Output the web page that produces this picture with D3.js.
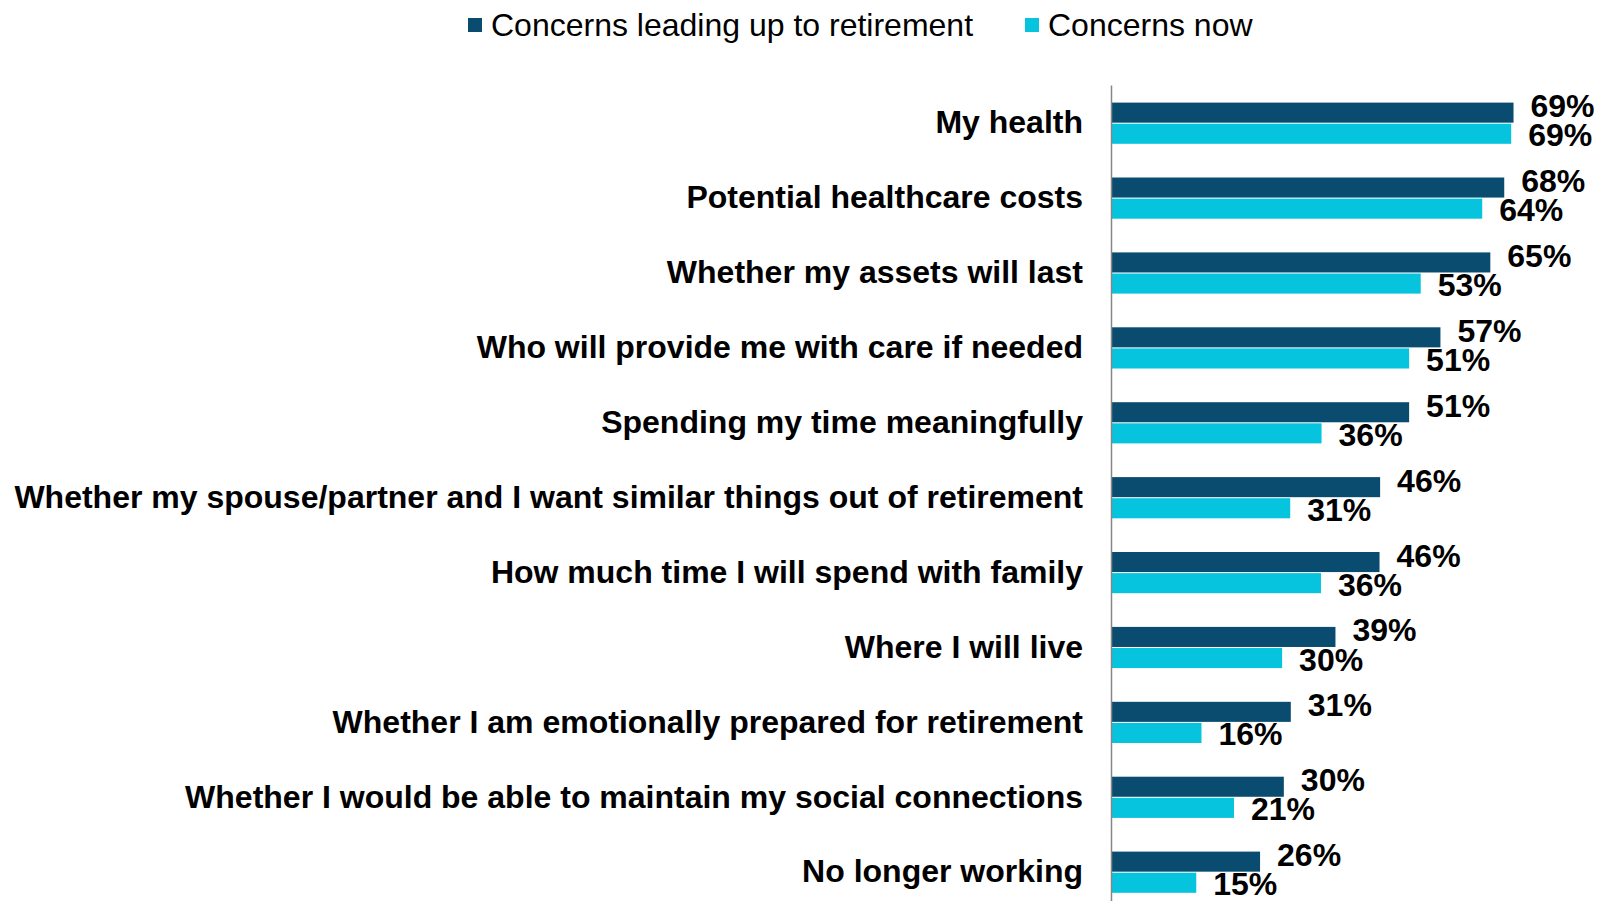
<!DOCTYPE html>
<html>
<head>
<meta charset="utf-8">
<script src="https://cdn.jsdelivr.net/npm/d3@7"></script>
<style>
  body { margin: 0; background: #fff; }
  svg { display: block; }
</style>
</head>
<body>
<svg id="chart" width="1600" height="901"></svg>
<script>
const CATEGORIES = [
  "My health",
  "Potential healthcare costs",
  "Whether my assets will last",
  "Who will provide me with care if needed",
  "Spending my time meaningfully",
  "Whether my spouse/partner and I want similar things out of retirement",
  "How much time I will spend with family",
  "Where I will live",
  "Whether I am emotionally prepared for retirement",
  "Whether I would be able to maintain my social connections",
  "No longer working"
];
const SERIES = ["Concerns leading up to retirement", "Concerns now"];
// values (labels show rounded numbers)
const BEFORE = [69.4, 67.8, 65.4, 56.8, 51.4, 46.4, 46.3, 38.7, 31.0, 29.8, 25.7];
const NOW    = [69.0, 64.0, 53.4, 51.4, 36.3, 30.9, 36.2, 29.5, 15.6, 21.2, 14.7];
const COLORS = ["#0a4c6f", "#06c3de"];

const svg = d3.select("#chart");

const rows = CATEGORIES.map((c, i) => ({
  cat: c,
  vals: [{s: SERIES[0], v: BEFORE[i]}, {s: SERIES[1], v: NOW[i]}]
}));

let x = d3.scaleLinear().domain([0, 70]).range([1111, 1517]);

let y = d3.scaleBand().domain(CATEGORIES)
          .range([85, 910.4])
          .paddingInner(0.45)
          .paddingOuter(0.235);

let ySub = d3.scaleBand().domain(SERIES)
             .range([0, y.bandwidth()])
             .paddingInner(0.05);

let color = d3.scaleOrdinal().domain(SERIES).range(COLORS);

// bars
let groups = svg.selectAll(".cat")
    .data(rows)
    .enter()
    .append("g")
    .attr("class", "cat")
    .attr("transform", d => `translate(0,${y(d.cat)})`);

groups.selectAll("rect")
    .data(d => d.vals)
    .enter()
    .append("rect")
    .attr("x", x(0))
    .attr("y", d => ySub(d.s))
    .attr("width", d => x(d.v) - x(0))
    .attr("height", ySub.bandwidth())
    .attr("fill", d => color(d.s));

groups.selectAll(".val")
    .data(d => d.vals)
    .enter()
    .append("text")
    .attr("class", "val")
    .attr("x", d => x(d.v) + 17)
    .attr("y", (d, i) => ySub(d.s) + ySub.bandwidth() / 2 + (i === 0 ? -7 : 1))
    .attr("dy", "0.36em")
    .attr("font-family", "Arial, 'Liberation Sans', sans-serif")
    .attr("font-weight", "bold")
    .attr("font-size", "32px")
    .attr("fill", "#000")
    .text(d => Math.round(d.v) + "%");

// category axis
let axis = svg.append("g")
    .attr("transform", `translate(${x(0)},0)`)
    .call(d3.axisLeft(y).tickSize(0).tickPadding(28));

axis.select(".domain").attr("stroke", "#868686").attr("stroke-width", 1.5);
axis.selectAll("text")
    .attr("font-family", "Arial, 'Liberation Sans', sans-serif")
    .attr("font-weight", "bold")
    .attr("font-size", "32px")
    .attr("fill", "#000");

// legend
const legendX = [468, 1025];
let legend = svg.selectAll(".legend")
    .data(SERIES)
    .enter()
    .append("g")
    .attr("class", "legend")
    .attr("transform", (d, i) => `translate(${legendX[i]},18)`);

legend.append("rect")
    .attr("width", 14)
    .attr("height", 14)
    .attr("fill", d => color(d));

legend.append("text")
    .attr("x", 23)
    .attr("y", 17.7)
    .attr("font-family", "Arial, 'Liberation Sans', sans-serif")
    .attr("font-size", "32px")
    .attr("fill", "#000")
    .text(d => d);
</script>
</body>
</html>
